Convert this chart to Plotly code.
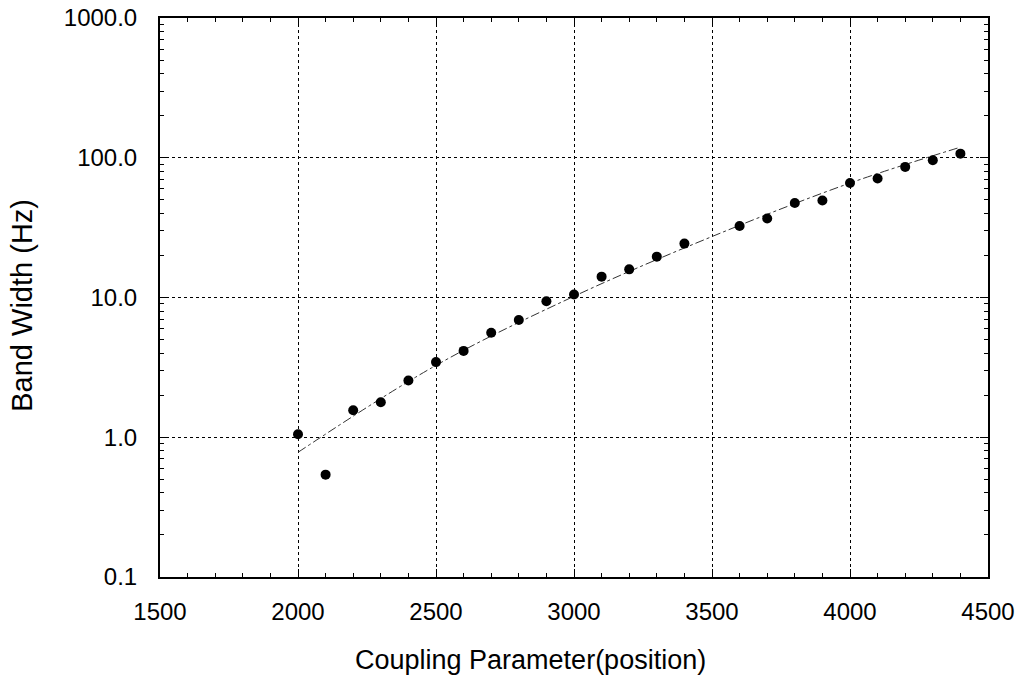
import plotly.graph_objects as go

# measured data
position = [2000, 2100, 2200, 2300, 2400, 2500, 2600, 2700, 2800, 2900, 3000,
            3100, 3200, 3300, 3400, 3600, 3700, 3800, 3900, 4000, 4100, 4200,
            4300, 4400]
bandwidth = [1.05, 0.54, 1.56, 1.78, 2.55, 3.45, 4.15, 5.6, 6.9, 9.4, 10.5,
             14.1, 15.9, 19.6, 24.3, 32.5, 36.8, 47.5, 49.5, 66.0, 71.0, 86.0,
             96.0, 107.0]

# fit curve
fit_x = [2000, 2500, 3000, 3500, 4000, 4400]
fit_y = [0.78, 3.27, 10.2, 27.3, 65.9, 119.0]

y_tickvals = [0.1, 1, 10, 100, 1000]
y_ticktext = ["0.1", "1.0", "10.0", "100.0", "1000.0"]
x_tickvals = [1500, 2000, 2500, 3000, 3500, 4000, 4500]

x_title = "Coupling Parameter(position)"
y_title = "Band Width (Hz)"

FONT = "Liberation Sans, Arial, sans-serif"

fig = go.Figure()
fig.add_trace(go.Scatter(
    x=fit_x, y=fit_y, mode="lines", line_shape="spline",
    line=dict(color="#333333", width=1, dash="dashdot"),
    showlegend=False, hoverinfo="skip"))
fig.add_trace(go.Scatter(
    x=position, y=bandwidth, mode="markers",
    marker=dict(color="black", size=10),
    showlegend=False))

fig.update_layout(
    width=1022, height=679,
    margin=dict(l=160, r=34, t=18, b=102),
    paper_bgcolor="white", plot_bgcolor="white",
    font=dict(family=FONT, color="black", size=24),
)
fig.update_xaxes(
    range=[1500, 4500], tickvals=x_tickvals, automargin=False,
    showline=True, linecolor="black", linewidth=2, mirror="allticks",
    ticks="inside", ticklen=8, tickcolor="black", tickwidth=1,
    showgrid=True, gridcolor="black", griddash="dot", gridwidth=1,
    zeroline=False,
    ticklabelstandoff=12,
    tickfont=dict(size=24),
    minor=dict(dtick=100, ticks="inside", ticklen=4, tickcolor="black", showgrid=False),
)
fig.update_yaxes(
    type="log", range=[-1, 3], tickvals=y_tickvals, ticktext=y_ticktext,
    automargin=False,
    showline=True, linecolor="black", linewidth=2, mirror="allticks",
    ticks="inside", ticklen=8, tickcolor="black", tickwidth=1,
    showgrid=True, gridcolor="black", griddash="dot", gridwidth=1,
    zeroline=False,
    ticklabelstandoff=16,
    tickfont=dict(size=24),
    minor=dict(dtick="D1", ticks="inside", ticklen=4, tickcolor="black", showgrid=False),
)
fig.add_annotation(text=x_title, xref="paper", yref="paper",
                   x=0.447, y=-0.1485, xanchor="center", yanchor="middle",
                   showarrow=False, font=dict(size=27))
fig.add_annotation(text=y_title, xref="paper", yref="paper",
                   x=-0.1667, y=0.487, xanchor="center", yanchor="middle",
                   textangle=-90, showarrow=False, font=dict(size=29))

fig.write_html("out.html")
